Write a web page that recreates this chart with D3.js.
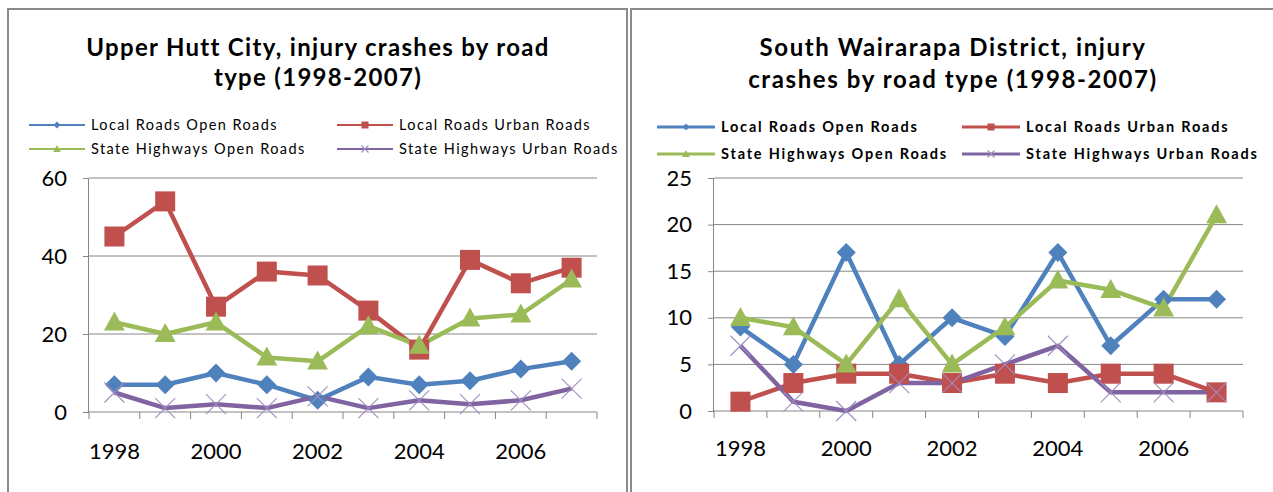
<!DOCTYPE html>
<html><head><meta charset="utf-8">
<script src="https://cdn.jsdelivr.net/npm/d3@7"></script>
<style>
body{margin:0;background:#fff;}
svg{display:block;}
text{font-family:Lato, "Open Sans", sans-serif;fill:#000;}
</style></head><body>
<svg id="c" width="1273" height="492"></svg>
<script>
const years = ["1998","1999","2000","2001","2002","2003","2004","2005","2006","2007"];
const xTickLabels = ["1998","2000","2002","2004","2006"];
const seriesNames = ["Local Roads Open Roads","Local Roads Urban Roads","State Highways Open Roads","State Highways Urban Roads"];

// Upper Hutt City
const uhLocalOpen   = [7, 7, 10, 7, 3, 9, 7, 8, 11, 13];
const uhLocalUrban  = [45, 54, 27, 36, 35, 26, 16, 39, 33, 37];
const uhStateOpen   = [23, 20, 23, 14, 13, 22, 17, 24, 25, 34];
const uhStateUrban  = [5, 1, 2, 1, 4, 1, 3, 2, 3, 6];
const uhYTicks = [0, 20, 40, 60];

// South Wairarapa District
const swLocalOpen   = [9, 5, 17, 5, 10, 8, 17, 7, 12, 12];
const swLocalUrban  = [1, 3, 4, 4, 3, 4, 3, 4, 4, 2];
const swStateOpen   = [10, 9, 5, 12, 5, 9, 14, 13, 11, 21];
const swStateUrban  = [7, 1, 0, 3, 3, 5, 7, 2, 2, 2];
const swYTicks = [0, 5, 10, 15, 20, 25];

const colors = ["#4F81BD","#C0504D","#9BBB59","#8064A2"];
const markerTypes = ["diamond","square","triangle","x"];

const svg = d3.select("#c");

// panel borders
svg.append("path").attr("d","M8,492 V9 H627 V492").attr("fill","none").attr("stroke","#8a8a8a").attr("stroke-width",2);
svg.append("path").attr("d","M631,492 V9 H1273").attr("fill","none").attr("stroke","#8a8a8a").attr("stroke-width",2);

function drawMarker(g, type, color, x, y, s){
  if(type==="diamond"){
    g.append("path").attr("d",`M${x},${y-s} L${x+s},${y} L${x},${y+s} L${x-s},${y} Z`).attr("fill",color);
  } else if(type==="square"){
    g.append("rect").attr("x",x-s).attr("y",y-s).attr("width",2*s).attr("height",2*s).attr("fill",color);
  } else if(type==="triangle"){
    g.append("path").attr("d",`M${x},${y-s*1.15} L${x+s*1.1},${y+s*0.85} L${x-s*1.1},${y+s*0.85} Z`).attr("fill",color);
  } else {
    g.append("path").attr("d",`M${x-s},${y-s} L${x+s},${y+s} M${x+s},${y-s} L${x-s},${y+s}`).attr("stroke","#a08cc4").attr("stroke-width",1.1).attr("fill","none");
  }
}

function panel(cfg){
  const g = svg.append("g");
  // title
  cfg.title.forEach((t,i)=>{
    g.append("text").attr("x",cfg.titleX).attr("y",cfg.titleY[i]).attr("text-anchor","middle")
     .attr("font-size",24).attr("font-weight","bold").attr("letter-spacing",cfg.titleLS).text(t);
  });
  // legend
  seriesNames.forEach((n,i)=>{
    const col = i%2, row = Math.floor(i/2);
    const lx = cfg.legX[col], ly = cfg.legY[row];
    const lg = g.append("g");
    lg.append("line").attr("x1",lx).attr("x2",lx+cfg.legLen).attr("y1",ly).attr("y2",ly)
      .attr("stroke",colors[i]).attr("stroke-width",cfg.legStroke);
    drawMarker(lg, markerTypes[i], colors[i], lx+cfg.legLen/2, ly, 3.5);
    lg.append("text").attr("x",lx+cfg.legLen+6).attr("y",ly).attr("dy","0.35em")
      .attr("font-size",14.5).attr("font-weight",cfg.legWeight).attr("letter-spacing",cfg.legLS).text(n);
  });
  const x = d3.scaleBand().domain(years).range([cfg.x0,cfg.x1]);
  const y = d3.scaleLinear().domain([0,d3.max(cfg.yTicks)]).range([cfg.y0,cfg.y1]);
  // gridlines
  g.append("g").selectAll("line").data(cfg.yTicks.filter(d=>d>0)).join("line")
    .attr("x1",cfg.x0).attr("x2",cfg.x1).attr("y1",d=>y(d)).attr("y2",d=>y(d))
    .attr("stroke","#868686").attr("stroke-width",1);
  // y axis
  const ya = g.append("g").attr("transform",`translate(${cfg.x0},0)`)
    .call(d3.axisLeft(y).tickValues(cfg.yTicks).tickSize(6).tickPadding(16));
  ya.select(".domain").attr("stroke","#868686").attr("d",`M-0.5,${cfg.y0}V${cfg.y1}`);
  ya.selectAll(".tick line").attr("stroke","#868686");
  ya.selectAll(".tick text").attr("font-size",22).attr("font-family","Lato, sans-serif").attr("fill","#000");
  // x axis
  const xa = g.append("g").attr("transform",`translate(0,${cfg.y0})`);
  xa.append("line").attr("x1",cfg.x0).attr("x2",cfg.x1).attr("y1",0).attr("y2",0).attr("stroke","#868686");
  const bounds = years.map(d=>x(d)).concat([cfg.x1]);
  xa.selectAll("line.t").data(bounds).join("line").attr("class","t")
    .attr("x1",d=>d).attr("x2",d=>d).attr("y1",0).attr("y2",7).attr("stroke","#868686");
  xa.selectAll("text").data(xTickLabels).join("text")
    .attr("x",d=>x(d)+x.bandwidth()/2).attr("y",cfg.xLabY-cfg.y0).attr("dy","0.35em")
    .attr("text-anchor","middle").attr("font-size",22).text(d=>d);
  // series
  const line = d3.line().x((d,i)=>x(years[i])+x.bandwidth()/2).y(d=>y(d));
  cfg.data.forEach((arr,i)=>{
    g.append("path").datum(arr).attr("d",line).attr("fill","none")
      .attr("stroke",colors[i]).attr("stroke-width",4.5).attr("stroke-linejoin","round");
  });
  cfg.data.forEach((arr,i)=>{
    const mg = g.append("g");
    arr.forEach((v,j)=>{
      const s = markerTypes[i]==="square"?10: markerTypes[i]==="diamond"?9.5: markerTypes[i]==="triangle"?9.5:10;
      drawMarker(mg, markerTypes[i], colors[i], x(years[j])+x.bandwidth()/2, y(v), s);
    });
  });
}

panel({
  title:["Upper Hutt City, injury crashes by road","type (1998-2007)"],
  titleX:318, titleY:[56,86], titleLS:1.3,
  legX:[29,337], legY:[125,149], legLen:56, legStroke:2, legWeight:"normal", legLS:1.4,
  x0:89, x1:597, y0:412, y1:178, yTicks:uhYTicks, xLabY:451,
  data:[uhLocalOpen, uhLocalUrban, uhStateOpen, uhStateUrban]
});
panel({
  title:["South Wairarapa District, injury","crashes by road type (1998-2007)"],
  titleX:953, titleY:[56,88], titleLS:1.6,
  legX:[657,962], legY:[127,154], legLen:58, legStroke:3, legWeight:"bold", legLS:1.8,
  x0:714, x1:1243, y0:411, y1:178, yTicks:swYTicks, xLabY:448,
  data:[swLocalOpen, swLocalUrban, swStateOpen, swStateUrban]
});
</script></body></html>
